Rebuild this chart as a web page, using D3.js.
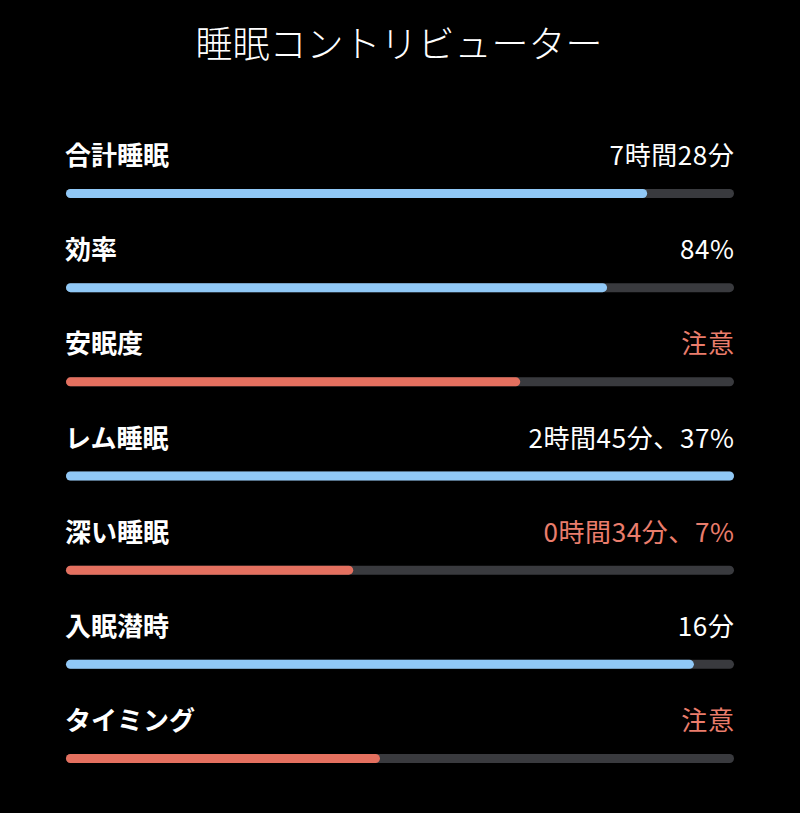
<!DOCTYPE html>
<html>
<head>
<meta charset="utf-8">
<script src="https://cdn.jsdelivr.net/npm/d3@7"></script>
<style>
  html, body { margin: 0; padding: 0; background: #000; }
  svg { display: block; }
</style>
</head>
<body>
<svg id="chart" width="800" height="813"></svg>
<script>
const title = "睡眠コントリビューター";
const categories = ["合計睡眠", "効率", "安眠度", "レム睡眠", "深い睡眠", "入眠潜時", "タイミング"];
const valueLabels = ["7時間28分", "84%", "注意", "2時間45分、37%", "0時間34分、7%", "16分", "注意"];
const scores = [0.87, 0.81, 0.68, 1.0, 0.43, 0.94, 0.47];
const status = ["ok", "ok", "warn", "ok", "warn", "ok", "warn"];
const warnText = [false, false, true, false, true, false, true];

const svg = d3.select("#chart");
const W = 800, H = 813;
svg.append("rect").attr("width", W).attr("height", H).attr("fill", "#000");

const font = "'Noto Sans CJK JP', 'Noto Sans', sans-serif";
const colors = { ok: "#90c8f6", warn: "#e4705f", track: "#393a3e", warnText: "#ea7d6c" };

svg.append("text")
  .attr("x", 399).attr("y", 58)
  .attr("text-anchor", "middle")
  .attr("fill", "#fff")
  .attr("font-family", font)
  .attr("font-weight", 300)
  .attr("font-size", 37)
  .text(title);

const x = d3.scaleLinear().domain([0, 1]).range([66, 734]);
const y = d3.scalePoint().domain(categories).range([193.5, 758.5]);
const barH = 9;

const rows = svg.selectAll("g.row").data(categories).join("g").attr("class", "row")
  .attr("transform", d => `translate(0,${y(d)})`);

rows.append("rect")
  .attr("x", x(0)).attr("y", -barH / 2)
  .attr("width", x(1) - x(0)).attr("height", barH)
  .attr("rx", barH / 2)
  .attr("fill", colors.track);

rows.append("rect")
  .attr("x", x(0)).attr("y", -barH / 2)
  .attr("width", (d, i) => x(scores[i]) - x(0)).attr("height", barH)
  .attr("rx", barH / 2)
  .attr("fill", (d, i) => colors[status[i]]);

rows.append("text")
  .attr("x", x(0) - 1).attr("y", -28.5)
  .attr("fill", "#fff")
  .attr("font-family", font)
  .attr("font-weight", 700)
  .attr("font-size", 26)
  .text(d => d);

rows.append("text")
  .attr("x", x(1) + 0.5).attr("y", -28.5)
  .attr("text-anchor", "end")
  .attr("fill", (d, i) => warnText[i] ? colors.warnText : "#fff")
  .attr("font-family", font)
  .attr("font-weight", 400)
  .attr("font-size", 26)
  .attr("letter-spacing", 0.6)
  .text((d, i) => valueLabels[i]);
</script>
</body>
</html>
